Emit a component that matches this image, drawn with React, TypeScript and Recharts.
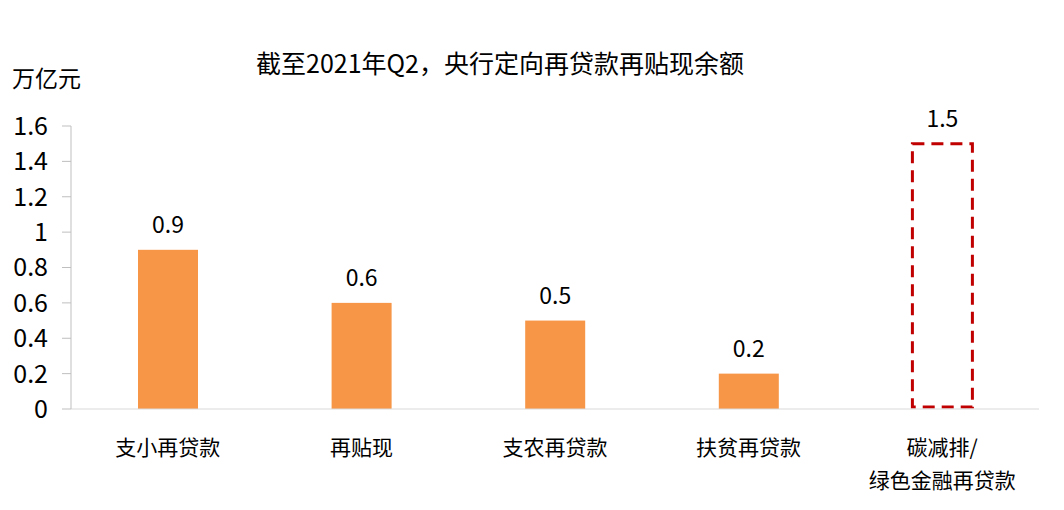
import { BarChart, Bar, XAxis, YAxis, LabelList } from 'recharts'

const categories = ['支小再贷款', '再贴现', '支农再贷款', '扶贫再贷款', '碳减排/\n绿色金融再贷款']
const balances = [0.9, 0.6, 0.5, 0.2, 1.5]
const yTicks = [0, 0.2, 0.4, 0.6, 0.8, 1, 1.2, 1.4, 1.6]

const data = categories.map((name, i) => ({ name, value: balances[i] }))

const FONT = '"Noto Sans CJK SC", "Noto Sans", sans-serif'

function CategoryTick(props: any) {
  const { x, y, payload } = props
  const lines = String(payload.value).split('\n')
  return (
    <text x={x} y={y} textAnchor="middle" fontSize={21} fill="#000" fontFamily={FONT}>
      {lines.map((line, i) => (
        <tspan key={i} x={x} dy={i === 0 ? 38 : 33}>
          {line}
        </tspan>
      ))}
    </text>
  )
}

function BarShape(props: any) {
  const { x, y, width, height, index } = props
  if (index === data.length - 1) {
    // dashed outline bar, bottom edge kept just above the axis line
    return (
      <rect
        x={x}
        y={y}
        width={width}
        height={height - 2}
        fill="none"
        stroke="#C00000"
        strokeWidth={3}
        strokeDasharray="12 7"
      />
    )
  }
  return <rect x={x} y={y} width={width} height={height} fill="#F79646" />
}

function ValueLabel(props: any) {
  const { x, y, width, value } = props
  return (
    <text x={x + width / 2} y={y - 17} textAnchor="middle" fontSize={23} fill="#000" fontFamily={FONT}>
      {value}
    </text>
  )
}

export default function App() {
  return (
    <div style={{ position: 'absolute', left: 0, top: 0, width: 1064, height: 510, background: '#fff', fontFamily: FONT }}>
      <div style={{ position: 'absolute', left: 0, width: 1000, top: 44, textAlign: 'center', fontSize: 25, color: '#000', lineHeight: '36px' }}>
        截至2021年Q2，央行定向再贷款再贴现余额
      </div>
      <div style={{ position: 'absolute', left: 12, top: 61, fontSize: 23, color: '#000', lineHeight: '32px' }}>万亿元</div>
      <BarChart width={1064} height={510} data={data} margin={{ top: 126, right: 25, bottom: 71, left: 0 }}>
        <XAxis
          dataKey="name"
          interval={0}
          tickLine={false}
          axisLine={{ stroke: '#d9d9d9' }}
          tick={<CategoryTick />}
        />
        <YAxis
          width={71}
          domain={[0, 1.6]}
          ticks={yTicks}
          interval={0}
          tickSize={9}
          tickMargin={14}
          axisLine={{ stroke: '#bfbfbf' }}
          tickLine={{ stroke: '#bfbfbf' }}
          tick={{ fontSize: 25, fill: '#000', fontFamily: FONT }}
        />
        <Bar dataKey="value" barSize={60} shape={<BarShape />} isAnimationActive={false}>
          <LabelList dataKey="value" content={<ValueLabel />} />
        </Bar>
      </BarChart>
    </div>
  )
}
